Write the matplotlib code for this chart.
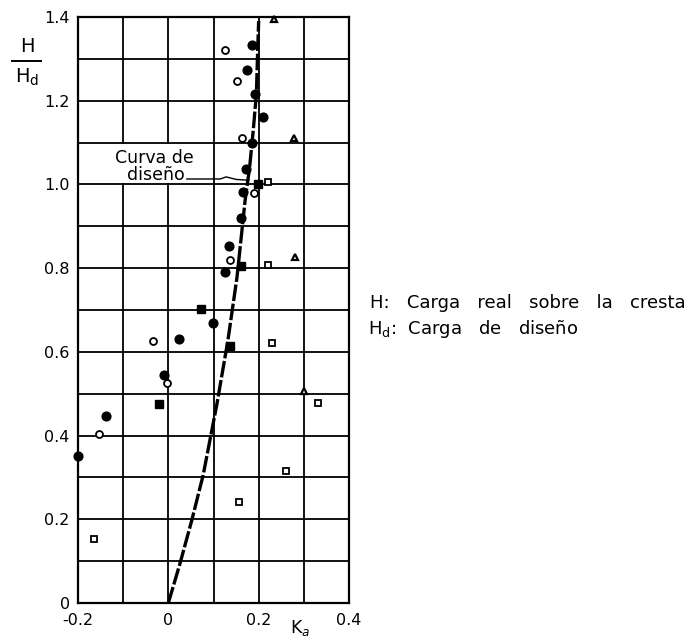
import matplotlib
matplotlib.use("Agg")
import matplotlib.pyplot as plt
from matplotlib.patches import Rectangle
import numpy as np

# Design curve
curve_k = [0.0, 0.026, 0.052, 0.077, 0.107, 0.132, 0.152, 0.170, 0.180, 0.188, 0.195, 0.198, 0.200]
curve_h = [0.0, 0.095, 0.198, 0.305, 0.472, 0.628, 0.778, 0.962, 1.041, 1.129, 1.217, 1.327, 1.39]

# Filled circles
fc_k = [0.185, 0.174, 0.192, 0.209, 0.185, 0.172, 0.166, 0.160, 0.134, 0.125, 0.099, 0.024, -0.010, -0.138, -0.200]
fc_h = [1.332, 1.274, 1.217, 1.162, 1.098, 1.038, 0.981, 0.919, 0.854, 0.790, 0.668, 0.630, 0.544, 0.446, 0.351]

# Open circles
oc_k = [0.125, 0.152, 0.163, 0.190, 0.136, -0.034, -0.003, -0.153]
oc_h = [1.322, 1.248, 1.112, 0.980, 0.819, 0.625, 0.525, 0.403]

# Filled squares
fs_k = [0.198, 0.160, 0.072, 0.136, -0.021]
fs_h = [1.002, 0.804, 0.702, 0.613, 0.475]

# Open squares
os_k = [0.220, 0.220, 0.229, 0.331, 0.260, 0.156, -0.165]
os_h = [1.005, 0.807, 0.620, 0.477, 0.315, 0.241, 0.153]

# Triangles
tr_k = [0.234, 0.278, 0.280, 0.300]
tr_h = [1.396, 1.110, 0.826, 0.506]

x_ticks = [-0.2, 0.0, 0.2, 0.4]
x_tick_labels = ["-0.2", "0", "0.2", "0.4"]
y_ticks = [0.0, 0.2, 0.4, 0.6, 0.8, 1.0, 1.2, 1.4]
y_tick_labels = ["0", "0.2", "0.4", "0.6", "0.8", "1.0", "1.2", "1.4"]

W, H = 699, 643
fig = plt.figure(figsize=(W/100, H/100), dpi=100)
ax = fig.add_axes([78/W, 1-603/H, (349-78)/W, (603-17)/H])

ax.set_xlim(-0.2, 0.4)
ax.set_ylim(0, 1.4)
ax.set_xticks(np.arange(-0.2, 0.41, 0.1), minor=True)
ax.set_yticks(np.arange(0, 1.41, 0.1), minor=True)
ax.set_xticks(x_ticks)
ax.set_xticklabels(x_tick_labels)
ax.set_yticks(y_ticks)
ax.set_yticklabels(y_tick_labels)
ax.grid(True, which="both", color="black", linewidth=1.3)
ax.tick_params(axis="y", which="both", length=0, labelsize=11.5, pad=6)
ax.tick_params(axis="x", which="both", length=0, labelsize=11.5, pad=7)
for s in ax.spines.values():
    s.set_linewidth(1.6)

# white box behind the label (hides grid there)
ax.add_patch(Rectangle((-0.2, 1.004), 0.295, 0.092, facecolor="white", edgecolor="none", zorder=2))

ax.plot(curve_k, curve_h, color="black", linewidth=2.4, dashes=[5, 0.8], zorder=3,
        solid_capstyle="butt", dash_capstyle="butt")

ax.plot(fc_k, fc_h, "o", color="black", markersize=6.3, zorder=4, clip_on=False)
ax.plot(oc_k, oc_h, "o", mfc="white", mec="black", mew=1.3, markersize=5, zorder=4)
ax.plot(fs_k, fs_h, "s", color="black", markersize=5.5, zorder=4)
ax.plot(os_k, os_h, "s", mfc="white", mec="black", mew=1.3, markersize=4.5, zorder=4)
ax.plot(tr_k, tr_h, "^", mfc="white", mec="black", mew=1.6, markersize=4, zorder=4, clip_on=False)

# Annotation
ax.text(-0.030, 1.063, "Curva de", ha="center", va="center", fontsize=12.5, zorder=5)
ax.text(-0.027, 1.022, "diseño", ha="center", va="center", fontsize=12.5, zorder=5)
ax.plot([0.041, 0.115, 0.128, 0.150, 0.178], [1.013, 1.013, 1.018, 1.012, 1.010],
        color="black", lw=1.0, zorder=5)

ax.set_xlabel("K$_a$", fontsize=12.5)
ax.xaxis.set_label_coords((300-78)/(349-78), -0.026)
ax.xaxis.label.set_va("top")

# y label as stacked fraction
fig.text(27/W, 1-47/H, "H", ha="center", va="center", fontsize=14)
fig.add_artist(plt.Line2D([12/W, 41/W], [1-61/H, 1-61/H], color="black", lw=1.4))
fig.text(27/W, 1-77/H, "H$_\\mathregular{d}$", ha="center", va="center", fontsize=14)

# Legend text on the right
fs = 13
fig.text(370/W, 1-303/H, "H:   Carga   real   sobre   la   cresta", ha="left", va="center", fontsize=fs)
fig.text(368/W, 1-329/H, "H$_\\mathregular{d}$:  Carga   de   diseño", ha="left", va="center", fontsize=fs)

fig.savefig("out.png", dpi=100)
